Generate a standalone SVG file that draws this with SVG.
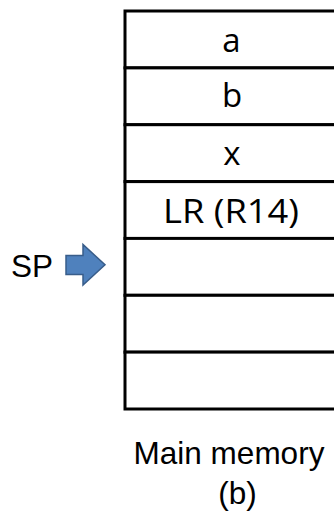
<svg xmlns="http://www.w3.org/2000/svg" width="334" height="515" viewBox="0 0 334 515">
  <style>
    .cell { fill: #ffffff; stroke: #000000; stroke-width: 3; }
    .val { font-family: "Open Sans", "Noto Sans", sans-serif; font-size: 33px; fill: #000000; text-anchor: middle; }
    .lbl { font-family: "Liberation Sans", Arial, sans-serif; font-size: 31.5px; fill: #000000; }
    .ptr { fill: #4F81BD; stroke: #385D8A; stroke-width: 1.5; stroke-linejoin: miter; }
  </style>
  <rect width="334" height="515" fill="#ffffff"/>

  <!-- stack cells, top to bottom -->
  <g id="cell-a">
    <rect class="cell" x="125" y="11" width="213" height="56.9"/>
    <text class="val" x="231.5" y="51.5">a</text>
  </g>
  <g id="cell-b">
    <rect class="cell" x="125" y="67.9" width="213" height="56.9"/>
    <text class="val" x="232" y="106.5">b</text>
  </g>
  <g id="cell-x">
    <rect class="cell" x="125" y="124.7" width="213" height="56.9"/>
    <text class="val" x="232" y="165">x</text>
  </g>
  <g id="cell-lr">
    <rect class="cell" x="125" y="181.6" width="213" height="56.9"/>
    <text class="val" x="231" y="222.5" textLength="136" lengthAdjust="spacingAndGlyphs">LR (R14)</text>
  </g>
  <g id="cell-5">
    <rect class="cell" x="125" y="238.4" width="213" height="56.9"/>
  </g>
  <g id="cell-6">
    <rect class="cell" x="125" y="295.3" width="213" height="56.9"/>
  </g>
  <g id="cell-7">
    <rect class="cell" x="125" y="352.1" width="213" height="56.9"/>
  </g>

  <!-- stack pointer label -->
  <g id="sp">
    <text class="lbl" x="11" y="277">SP</text>
  </g>

  <!-- pointer arrow -->
  <g id="connectors">
    <path class="ptr" d="M66,255.5 H83 V244.5 L105,264.8 L83,285 V274.5 H66 Z"/>
  </g>

  <!-- caption -->
  <g id="caption">
    <text class="lbl" x="229" y="463.5" text-anchor="middle">Main memory</text>
    <text class="lbl" x="237.5" y="504" text-anchor="middle">(b)</text>
  </g>
</svg>
